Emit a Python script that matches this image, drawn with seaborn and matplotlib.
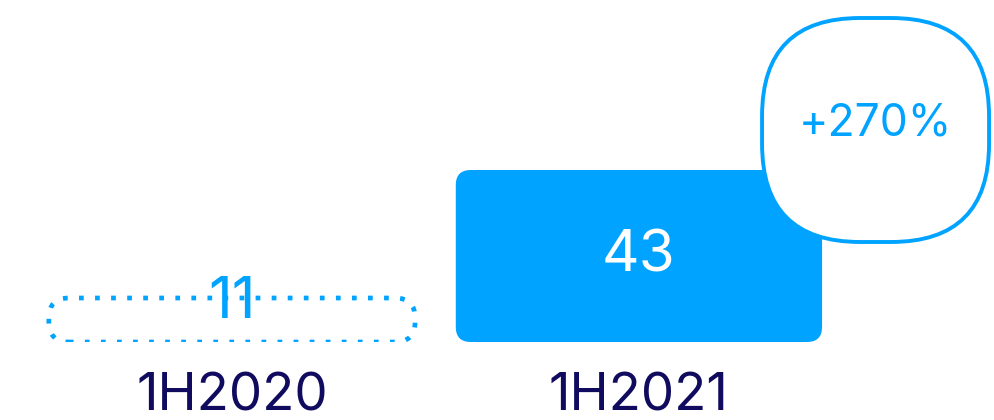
import pandas as pd
import matplotlib
matplotlib.use("Agg")
import matplotlib.pyplot as plt
import seaborn as sns
from matplotlib.patches import FancyBboxPatch

# datos
periodos = ["1H2020", "1H2021"]
valores = [11, 43]
crecimiento = "+270%"

AZUL = "#00A3FF"
MARINO = "#100B5E"

df = pd.DataFrame({"periodo": periodos, "valor": valores})

sns.set_theme(style="white")
plt.rcParams["font.family"] = ["Inter", "DejaVu Sans"]

fig = plt.figure(figsize=(9.95, 4.2), dpi=100)
ax = fig.add_axes([0, 78 / 420, 1, 342 / 420])
sns.barplot(data=df, x="periodo", y="valor", ax=ax, width=0.9, color=AZUL)

ax.set_xlim(-0.570, 1.875)
ax.set_ylim(0, 85.5)

# pixeles por unidad de datos
sx = 995 / (1.875 + 0.570)
sy = 342 / 85.5
aspecto = sx / sy

barras = list(ax.patches)
for i, p in enumerate(barras):
    x, y, w, h = p.get_x(), p.get_y(), p.get_width(), p.get_height()
    p.remove()
    xc = x + w / 2
    if i == 0:
        caja = FancyBboxPatch((x, y), w, h,
                              boxstyle=f"round,pad=0,rounding_size={20 / sx}",
                              mutation_aspect=aspecto, facecolor="none",
                              edgecolor=AZUL, linewidth=3.4,
                              linestyle=(0, (1, 2.4)), capstyle="butt", zorder=2)
        ax.add_patch(caja)
        ax.text(xc, h - 5 / sy, str(valores[i]), ha="center", va="center",
                color=AZUL, fontsize=42, zorder=3)
    else:
        caja = FancyBboxPatch((x, y), w, h,
                              boxstyle=f"round,pad=0,rounding_size={15 / sx}",
                              mutation_aspect=aspecto, facecolor=AZUL,
                              edgecolor="none", zorder=2)
        ax.add_patch(caja)
        ax.text(xc, h / 2, str(valores[i]), ha="center", va="center",
                color="white", fontsize=42, zorder=3)
        # insignia de crecimiento, junto a la esquina superior derecha
        bx = x + w - 60 / sx
        by = h - 72 / sy
        bw, bh = 227 / sx, 224 / sy
        insignia = FancyBboxPatch((bx, by), bw, bh,
                                  boxstyle=f"round,pad=0,rounding_size={98 / sx}",
                                  mutation_aspect=aspecto, facecolor="white",
                                  edgecolor=AZUL, linewidth=2.8, zorder=4)
        ax.add_patch(insignia)
        ax.text(bx + bw / 2, by + bh / 2 + 6 / sy, crecimiento, ha="center",
                va="center", color=AZUL, fontsize=32, zorder=5)

# ejes
sns.despine(ax=ax, left=True, bottom=True)
ax.set_yticks([])
ax.set_xlabel("")
ax.set_ylabel("")
ax.tick_params(axis="x", length=0, pad=22, labelsize=38, labelcolor=MARINO)

fig.savefig("out.png", dpi=100)
